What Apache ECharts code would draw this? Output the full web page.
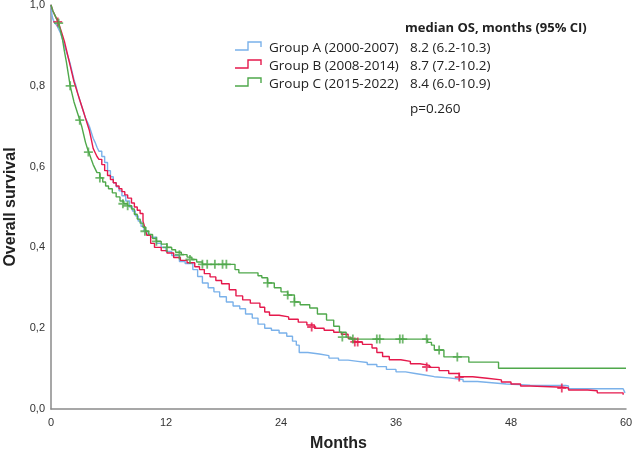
<!DOCTYPE html>
<html>
<head>
<meta charset="utf-8">
<script src="https://cdn.jsdelivr.net/npm/echarts@6/dist/echarts.min.js"></script>
<style>html,body{margin:0;padding:0;background:#fff;}#c{width:633px;height:459px;}</style>
</head>
<body>
<div id="c"></div>
<script>
const xTicks = [0, 12, 24, 36, 48, 60];
const yTicks = [0, 0.2, 0.4, 0.6, 0.8, 1.0];
const groupNames = ['Group A (2000-2007)', 'Group B (2008-2014)', 'Group C (2015-2022)'];
const medianText = ['8.2 (6.2-10.3)', '8.7 (7.2-10.2)', '8.4 (6.0-10.9)'];
const pText = 'p=0.260';

const groupA = [[0,1.0],[0.1,0.975],[0.2,0.965],[0.4,0.955],[0.6,0.95],[0.8,0.94],[1.0,0.93],[1.2,0.915],[1.4,0.90],[1.6,0.885],[1.8,0.87],[2.0,0.855],[2.2,0.835],[2.4,0.815],[2.6,0.80],[2.8,0.78],[3.0,0.765],[3.2,0.75],[3.4,0.735],[3.6,0.72],[3.8,0.71],[4.0,0.70],[4.2,0.685],[4.4,0.67],[4.6,0.66],[4.8,0.648],[5.0,0.638],[5.3,0.625],[5.6,0.61],[5.9,0.59],[6.2,0.575],[6.5,0.56],[6.8,0.55],[7.1,0.54],[7.4,0.528],[7.8,0.515],[8.2,0.50],[8.5,0.49],[8.8,0.478],[9.1,0.465],[9.4,0.452],[9.7,0.44],[10.0,0.432],[10.4,0.425],[11.0,0.41],[11.5,0.40],[12.0,0.39],[12.6,0.38],[13.4,0.365],[14.0,0.36],[14.8,0.345],[15.3,0.328],[15.8,0.312],[16.4,0.30],[17.0,0.29],[17.6,0.278],[18.3,0.265],[19.0,0.255],[19.7,0.248],[20.3,0.235],[21.0,0.225],[21.6,0.21],[22.3,0.20],[23.0,0.195],[23.8,0.188],[24.6,0.18],[25.2,0.168],[25.6,0.158],[25.9,0.14],[26.8,0.136],[28.0,0.132],[29.0,0.126],[30.0,0.121],[31.0,0.118],[32.0,0.115],[33.0,0.11],[34.0,0.105],[35.0,0.098],[36.0,0.092],[37.0,0.088],[38.0,0.084],[39.0,0.08],[40.0,0.077],[41.5,0.073],[43.0,0.068],[44.5,0.065],[46.0,0.062],[47.5,0.059],[50.0,0.058],[53.7,0.057],[54.0,0.05],[59.7,0.047],[59.9,0.04]];
const groupB = [[0,1.0],[0.2,0.985],[0.4,0.975],[0.6,0.965],[0.8,0.955],[1.0,0.94],[1.2,0.925],[1.4,0.91],[1.6,0.89],[1.8,0.87],[2.0,0.85],[2.2,0.83],[2.4,0.81],[2.6,0.795],[2.8,0.78],[3.0,0.765],[3.2,0.75],[3.4,0.735],[3.6,0.72],[3.8,0.705],[4.0,0.69],[4.2,0.668],[4.4,0.645],[4.6,0.635],[4.8,0.625],[5.0,0.618],[5.3,0.605],[5.6,0.59],[5.9,0.578],[6.2,0.568],[6.5,0.56],[6.8,0.552],[7.1,0.545],[7.4,0.538],[7.7,0.53],[8.0,0.522],[8.4,0.51],[8.7,0.50],[9.0,0.492],[9.3,0.484],[9.6,0.465],[9.8,0.448],[10.0,0.43],[10.4,0.41],[10.8,0.40],[11.5,0.392],[12.1,0.386],[12.8,0.375],[13.5,0.368],[14.2,0.362],[15.0,0.352],[15.5,0.345],[16.0,0.335],[16.6,0.327],[17.2,0.318],[17.8,0.31],[18.6,0.295],[19.3,0.28],[20.0,0.27],[20.8,0.262],[21.8,0.252],[22.3,0.24],[22.8,0.232],[23.8,0.228],[24.8,0.222],[25.8,0.215],[26.7,0.208],[27.5,0.2],[28.5,0.195],[29.5,0.19],[30.3,0.185],[31.0,0.175],[31.5,0.166],[32.5,0.16],[33.5,0.151],[34.0,0.14],[34.6,0.13],[35.3,0.122],[36.5,0.118],[37.5,0.112],[38.5,0.108],[39.5,0.103],[40.5,0.095],[41.5,0.088],[42.6,0.08],[44.0,0.076],[45.5,0.072],[47.0,0.067],[48.0,0.062],[49.0,0.057],[50.0,0.054],[53.5,0.052],[54.0,0.047],[56.0,0.045],[57.0,0.04],[59.7,0.035]];
const groupC = [[0,1.0],[0.2,0.985],[0.4,0.975],[0.6,0.965],[0.8,0.955],[1.0,0.935],[1.2,0.915],[1.4,0.885],[1.6,0.86],[1.8,0.83],[2.0,0.80],[2.2,0.78],[2.4,0.76],[2.6,0.745],[2.8,0.73],[3.0,0.715],[3.2,0.70],[3.4,0.68],[3.6,0.66],[3.8,0.645],[4.0,0.632],[4.2,0.618],[4.4,0.605],[4.6,0.595],[4.8,0.585],[5.1,0.572],[5.4,0.562],[5.7,0.552],[6.0,0.545],[6.4,0.535],[6.8,0.525],[7.2,0.515],[7.6,0.508],[8.0,0.503],[8.4,0.495],[8.7,0.482],[9.0,0.47],[9.3,0.46],[9.6,0.45],[9.9,0.44],[10.2,0.432],[10.6,0.422],[11.0,0.415],[11.5,0.408],[12.1,0.40],[12.6,0.394],[13.0,0.388],[13.6,0.382],[14.2,0.376],[14.7,0.37],[15.2,0.364],[15.8,0.358],[19.2,0.345],[19.6,0.337],[21.6,0.33],[22.0,0.325],[22.6,0.312],[23.3,0.30],[24.0,0.29],[24.7,0.282],[25.4,0.265],[26.0,0.258],[27.0,0.25],[27.8,0.235],[28.75,0.22],[29.5,0.205],[30.1,0.19],[30.8,0.178],[31.3,0.173],[39.3,0.165],[39.7,0.158],[40.0,0.146],[41.0,0.129],[43.6,0.116],[46.7,0.101],[60,0.101]];

const censorB = [[0.7,0.958],[27.2,0.203],[31.7,0.166],[32.0,0.166],[39.2,0.104],[42.6,0.079],[53.3,0.052]];
const censorC = [[0.8,0.955],[2.0,0.80],[3.0,0.715],[3.9,0.636],[5.1,0.572],[7.5,0.508],[8.0,0.503],[9.8,0.44],[11.0,0.415],[12.1,0.40],[13.4,0.382],[14.5,0.37],[15.8,0.358],[16.3,0.358],[17.1,0.358],[17.9,0.358],[18.3,0.358],[22.6,0.312],[24.7,0.282],[25.4,0.265],[30.4,0.178],[31.5,0.173],[34.0,0.173],[34.3,0.173],[36.4,0.173],[36.7,0.173],[39.2,0.173],[40.5,0.146],[42.4,0.129]];

const colors = ['#7ab1ea', '#e5194c', '#4fa84b'];
const plus = 'path://M4,0h2v4h4v2h-4v4h-2v-4h-4v-2h4z';

const chart = echarts.init(document.getElementById('c'), null, {renderer: 'canvas'});
function lineSeries(data, c) {
  return {type: 'line', data: data, step: 'end', symbol: 'none', lineStyle: {color: c, width: 1.4}, z: 3, animation: false};
}
function censorSeries(data, c) {
  return {type: 'scatter', data: data, symbol: plus, symbolSize: 9, itemStyle: {color: c}, z: 4, animation: false};
}
const legendGraphics = [];
const rowY = [48, 66, 84];
for (let i = 0; i < 3; i++) {
  const y = rowY[i];
  legendGraphics.push({type: 'polyline', shape: {points: [[235, y + 2], [248, y + 2], [248, y - 6], [261, y - 6], [261, y - 1]]}, style: {stroke: colors[i], lineWidth: 1.4, fill: null}});
  legendGraphics.push({type: 'text', x: 269, y: y, style: {text: groupNames[i], font: '13.5px "Open Sans"', fill: '#222', textVerticalAlign: 'middle'}});
  legendGraphics.push({type: 'text', x: 410, y: y, style: {text: medianText[i], font: '13.5px "Open Sans"', fill: '#222', textVerticalAlign: 'middle'}});
}
legendGraphics.push({type: 'text', x: 405, y: 28, style: {text: 'median OS, months (95% CI)', font: 'bold 13px "Open Sans"', fill: '#222', textVerticalAlign: 'middle'}});
legendGraphics.push({type: 'text', x: 410, y: 109, style: {text: pText, font: '13.5px "Open Sans"', fill: '#222', textVerticalAlign: 'middle'}});

chart.setOption({
  animation: false,
  grid: {left: 51, right: 7, top: 5, bottom: 50, containLabel: false, outerBoundsMode: 'none'},
  xAxis: {
    type: 'value', min: 0, max: 60, interval: 12,
    name: 'Months', nameLocation: 'middle', nameGap: 27,
    nameTextStyle: {fontFamily: 'Liberation Sans', fontWeight: 'bold', fontSize: 16, color: '#222'},
    axisLine: {lineStyle: {color: '#8a8a8a', width: 1.5}},
    axisTick: {show: false}, splitLine: {show: false},
    axisLabel: {fontFamily: 'Liberation Sans', fontSize: 11, color: '#333', margin: 8}
  },
  yAxis: {
    type: 'value', min: 0, max: 1, interval: 0.2,
    name: 'Overall survival', nameLocation: 'middle', nameGap: 30,
    nameTextStyle: {fontFamily: 'Liberation Sans', fontWeight: 'bold', fontSize: 16, color: '#222'},
    axisLine: {show: true, lineStyle: {color: '#8a8a8a', width: 1.5}},
    axisTick: {show: false}, splitLine: {show: false},
    axisLabel: {fontFamily: 'Liberation Sans', fontSize: 11, color: '#333', margin: 6,
      formatter: v => v.toFixed(1).replace('.', ',')}
  },
  series: [
    lineSeries(groupA, colors[0]),
    lineSeries(groupB, colors[1]),
    lineSeries(groupC, colors[2]),
    censorSeries(censorB, colors[1]),
    censorSeries(censorC, colors[2])
  ],
  graphic: legendGraphics
});
</script>
</body>
</html>
